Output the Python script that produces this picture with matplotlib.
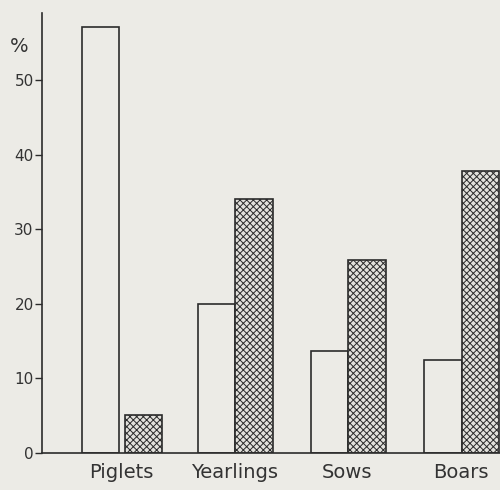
import matplotlib
matplotlib.use("Agg")
import matplotlib.pyplot as plt
import numpy as np

# data (percent)
categories = ["Piglets", "Yearlings", "Sows", "Boars"]
open_bars = [57.1, 20.0, 13.7, 12.5]
hatched_bars = [5.1, 34.1, 25.9, 37.8]
yticks = [0, 10, 20, 30, 40, 50]

bg = "#ecebe6"
ink = "#2b2b2b"
plt.rcParams["hatch.color"] = "#3a3a3a"
plt.rcParams["hatch.linewidth"] = 0.7

fig = plt.figure(figsize=(5.0, 4.9), dpi=100, facecolor=bg)
# axes box in pixels: left 42, right 500, bottom 453, top 13
ax = fig.add_axes([42 / 500, (490 - 453) / 490, 458 / 500, 440 / 490], facecolor=bg)

x = np.arange(len(categories))
width = 0.33
# the piglet pair is drawn with a small gap in the original
gap = np.array([0.05, 0.0, 0.0, 0.0])
ax.bar(x - width / 2 - gap / 2 + 0.01, open_bars, width, facecolor=bg, edgecolor=ink,
       linewidth=1.2)
ax.bar(x + width / 2 + gap / 2 + 0.01, hatched_bars, width, facecolor="#e2e1dc",
       edgecolor=ink, linewidth=1.2, hatch="xxxxx")

ax.set_xlim(-0.70, 3.35)
ax.set_ylim(0, 59)
ax.set_yticks(yticks)
ax.set_yticklabels([str(v) for v in yticks], fontsize=11, color="#333333")
ax.tick_params(axis="y", direction="out", length=5, width=1.0, pad=1, colors=ink,
               labelcolor="#333333")
ax.set_xticks(x)
ax.set_xticklabels(categories, fontsize=14, color="#333333")
ax.tick_params(axis="x", length=0, pad=7)

for s in ["top", "right"]:
    ax.spines[s].set_visible(False)
for s in ["left", "bottom"]:
    ax.spines[s].set_color(ink)
    ax.spines[s].set_linewidth(1.2)

ax.text(-0.03, 0.925, "%", transform=ax.transAxes, fontsize=14, color="#333333",
        ha="right", va="center")

fig.savefig("out.png", dpi=100, facecolor=bg)
